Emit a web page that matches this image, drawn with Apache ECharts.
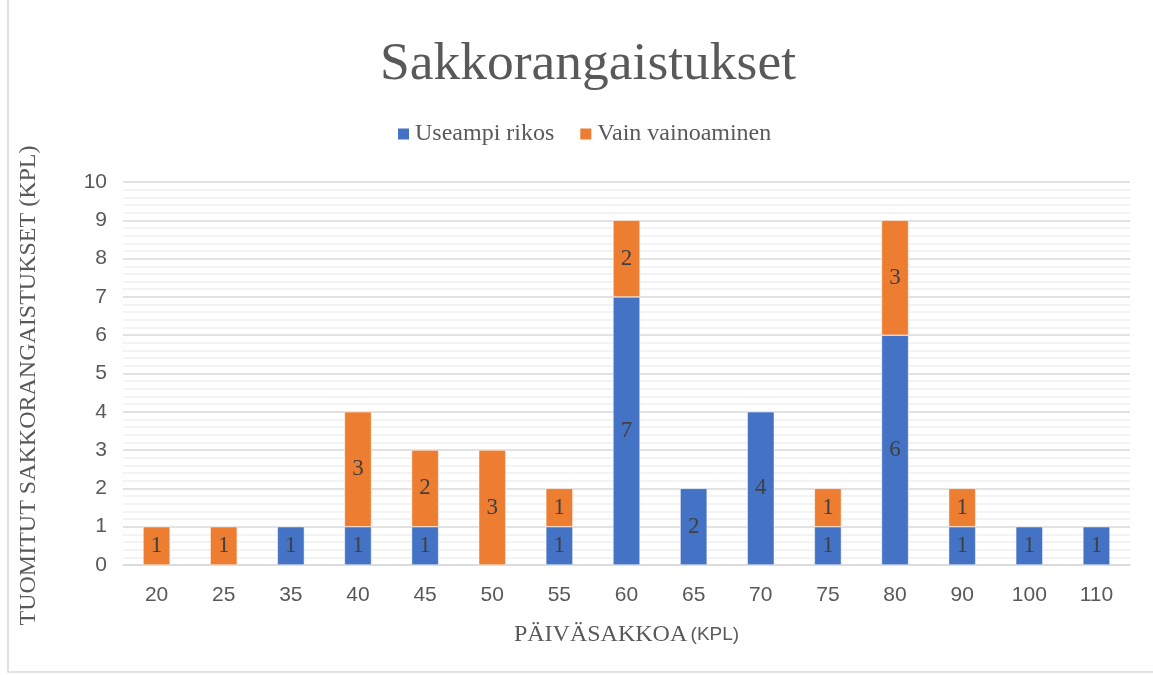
<!DOCTYPE html>
<html>
<head>
<meta charset="utf-8">
<script src="https://cdn.jsdelivr.net/npm/echarts@6/dist/echarts.min.js"></script>
<style>
  html, body { margin: 0; padding: 0; background: #fff; }
  #main { width: 1153px; height: 675px; }
</style>
</head>
<body>
<div id="main"></div>
<script>
const categories = ['20', '25', '35', '40', '45', '50', '55', '60', '65', '70', '75', '80', '90', '100', '110'];
// null = no bar segment (no label)
const useampiRikos = [null, null, 1, 1, 1, null, 1, 7, 2, 4, 1, 6, 1, 1, 1];
const vainVainoaminen = [1, 1, null, 3, 2, 3, 1, 2, null, null, 1, 3, 1, null, null];
const yTicks = [0, 1, 2, 3, 4, 5, 6, 7, 8, 9, 10];

const serif = '"Liberation Serif", "DejaVu Serif", serif';
const sans = '"Liberation Sans", "Open Sans", sans-serif';

const chart = echarts.init(document.getElementById('main'));

const labelStyle = {
    show: true,
    position: 'inside',
    fontFamily: serif,
    fontSize: 23,
    color: '#404040'
};

chart.setOption({
    animation: false,
    backgroundColor: '#fff',
    title: {
        text: 'Sakkorangaistukset',
        left: 375,
        top: 33,
        textStyle: { fontFamily: serif, fontSize: 53.5, fontWeight: 'normal', color: '#595959' }
    },
    legend: {
        top: 117,
        left: 391,
        itemWidth: 13,
        itemHeight: 13,
        itemGap: 24,
        icon: 'rect',
        textStyle: { fontFamily: serif, fontSize: 24, color: '#595959' },
        data: ['Useampi rikos', 'Vain vainoaminen']
    },
    grid: { left: 123, right: 23, top: 182, bottom: 110 },
    xAxis: {
        type: 'category',
        data: categories,
        axisLine: { lineStyle: { color: '#d9d9d9', width: 1.5 } },
        axisTick: { show: false },
        axisLabel: { fontFamily: sans, fontSize: 21, color: '#595959', margin: 20 },
        name: '{a|PÄIVÄSAKKOA} {b|(KPL)}',
        nameLocation: 'middle',
        nameGap: 58,
        nameTextStyle: {
            rich: {
                a: { fontFamily: serif, fontSize: 24, color: '#595959' },
                b: { fontFamily: sans, fontSize: 19, color: '#595959' }
            }
        }
    },
    yAxis: {
        type: 'value',
        min: yTicks[0],
        max: yTicks[yTicks.length - 1],
        interval: 1,
        axisLine: { show: false },
        axisTick: { show: false },
        axisLabel: { fontFamily: sans, fontSize: 21, color: '#595959', margin: 16 },
        splitLine: { lineStyle: { color: '#d9d9d9', width: 1.5 } },
        minorTick: { show: false, splitNumber: 5 },
        minorSplitLine: { show: true, lineStyle: { color: '#efefef', width: 1.5 } },
        name: 'TUOMITUT SAKKORANGAISTUKSET (KPL)',
        nameLocation: 'middle',
        nameGap: 82,
        nameTextStyle: { fontFamily: serif, fontSize: 24, color: '#595959', padding: [0, 24, 0, 0] }
    },
    series: [
        {
            name: 'Useampi rikos',
            type: 'bar',
            stack: 'total',
            barWidth: 27,
            data: useampiRikos,
            itemStyle: { color: '#4472c4', borderColor: '#ffffff', borderWidth: 0.5 },
            label: labelStyle
        },
        {
            name: 'Vain vainoaminen',
            type: 'bar',
            stack: 'total',
            barWidth: 27,
            data: vainVainoaminen,
            itemStyle: { color: '#ed7d31', borderColor: '#ffffff', borderWidth: 0.5 },
            label: labelStyle
        }
    ],
    graphic: [{
        type: 'rect',
        shape: { x: 8, y: -2, width: 1160, height: 674 },
        style: { fill: 'none', stroke: '#d9d9d9', lineWidth: 1.5 },
        silent: true
    }]
});
</script>
</body>
</html>
